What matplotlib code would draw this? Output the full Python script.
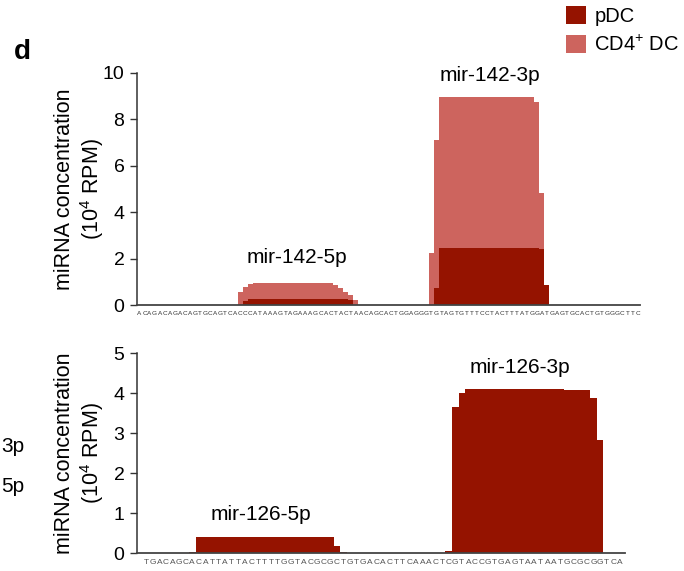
import numpy as np
import matplotlib
matplotlib.use('Agg')
import matplotlib.pyplot as plt
from matplotlib.patches import Patch

plt.rcParams['font.family'] = ['Liberation Sans', 'DejaVu Sans']
plt.rcParams['mathtext.fontset'] = 'custom'
plt.rcParams['mathtext.rm'] = 'Liberation Sans'
plt.rcParams['mathtext.it'] = 'Liberation Sans:italic'
plt.rcParams['mathtext.bf'] = 'Liberation Sans:bold'

# ---------------- data ----------------
seq_142 = "ACAGACAGACAGTGCAGTCACCCATAAAGTAGAAAGCACTACTAACAGCACTGGAGGGTGTAGTGTTTCCTACTTTATGGATGAGTGCACTGTGGGCTTC"
seq_126 = "TGACAGCACATTATTACTTTTGGTACGCGCTGTGACACTTCAAACTCGTACCGTGAGTAATAATGCGCGGTCA"

# per-nucleotide coverage (10^4 RPM), given as start index + values
cd4_142_5p_start = 20
cd4_142_5p = [0.57, 0.79, 0.89, 0.93, 0.93, 0.93, 0.93, 0.93, 0.93, 0.93, 0.93,
              0.93, 0.93, 0.93, 0.93, 0.93, 0.93, 0.93, 0.93, 0.86, 0.72, 0.57,
              0.43, 0.20]
pdc_142_5p_start = 21
pdc_142_5p = [0.18, 0.24, 0.24, 0.24, 0.24, 0.24, 0.24, 0.24, 0.24, 0.24, 0.24,
              0.24, 0.24, 0.24, 0.24, 0.24, 0.24, 0.24, 0.24, 0.24, 0.24, 0.22]

cd4_142_3p_start = 58
cd4_142_3p = [2.23, 7.10, 8.98, 8.98, 8.98, 8.98, 8.98, 8.98, 8.98, 8.98, 8.98,
              8.98, 8.98, 8.98, 8.98, 8.98, 8.98, 8.98, 8.98, 8.98, 8.98, 8.76,
              4.81]
pdc_142_3p_start = 59
pdc_142_3p = [0.72, 2.47, 2.47, 2.47, 2.47, 2.47, 2.47, 2.47, 2.47, 2.47, 2.47,
              2.47, 2.47, 2.47, 2.47, 2.47, 2.47, 2.47, 2.47, 2.47, 2.45, 2.40,
              0.86]

pdc_126_5p_start = 7
pdc_126_5p = [0.03, 0.39, 0.39, 0.39, 0.39, 0.39, 0.39, 0.39, 0.39, 0.39, 0.39,
              0.39, 0.39, 0.39, 0.39, 0.39, 0.39, 0.39, 0.39, 0.39, 0.39, 0.39,
              0.175, 0.02]
pdc_126_3p_start = 46
pdc_126_3p = [0.05, 3.66, 4.01, 4.10, 4.10, 4.10, 4.10, 4.10, 4.10, 4.10, 4.10,
              4.10, 4.10, 4.10, 4.10, 4.10, 4.10, 4.10, 4.08, 4.08, 4.08, 4.07,
              3.87, 2.83]

labels_142 = ["mir-142-5p", "mir-142-3p"]
labels_126 = ["mir-126-5p", "mir-126-3p"]
series_names = ["pDC", "CD4$^{+}$ DC"]
yticks_top = [0, 2, 4, 6, 8, 10]
yticks_bot = [0, 1, 2, 3, 4, 5]
edge_fragments = ["3p", "5p"]

PDC = '#951300'
CD4 = '#CD645E'


def coverage(n, *parts):
    cov = np.zeros(n)
    for start, vals in parts:
        cov[start:start + len(vals)] = vals
    return cov


W, H = 684, 571
fig = plt.figure(figsize=(W / 100, H / 100), dpi=100)


def px_axes(l, t, r, b):
    return fig.add_axes([l / W, 1 - b / H, (r - l) / W, (b - t) / H])


ax1 = px_axes(137, 73, 640, 305)
ax2 = px_axes(137, 353, 625, 553)

n1 = len(seq_142)
n2 = len(seq_126)
edges1 = np.arange(n1 + 1)
edges2 = np.arange(n2 + 1)

cd4_top = coverage(n1, (cd4_142_5p_start, cd4_142_5p), (cd4_142_3p_start, cd4_142_3p))
pdc_top = coverage(n1, (pdc_142_5p_start, pdc_142_5p), (pdc_142_3p_start, pdc_142_3p))
pdc_bot = coverage(n2, (pdc_126_5p_start, pdc_126_5p), (pdc_126_3p_start, pdc_126_3p))

ax1.stairs(cd4_top, edges1, fill=True, color=CD4, baseline=0, zorder=2)
ax1.stairs(pdc_top, edges1, fill=True, color=PDC, baseline=0, zorder=3)
ax2.stairs(pdc_bot, edges2, fill=True, color=PDC, baseline=0, zorder=3)

ax1.set_xlim(0, n1)
ax1.set_ylim(0, 10)
ax2.set_xlim(-0.9, 73.3)
ax2.set_ylim(0, 5)
ax1.set_yticks(yticks_top)
ax2.set_yticks(yticks_bot)

for ax in (ax1, ax2):
    for s in ('top', 'right'):
        ax.spines[s].set_visible(False)
    ax.spines['left'].set_color('#333333')
    ax.spines['left'].set_linewidth(1.1)
    ax.spines['bottom'].set_color('#444444')
    ax.spines['bottom'].set_linewidth(1.3)
    ax.spines['bottom'].set_zorder(5)
    ax.set_xticks([])
    ax.tick_params(axis='y', direction='out', length=5, width=1, color='#333333',
                   labelsize=14, pad=4)
    ax.set_ylabel('miRNA concentration\n(10$^{4}$ RPM)', fontsize=15.5, linespacing=1.15)
    ax.patch.set_alpha(0)

ax1.yaxis.set_label_coords(-0.062, 0.5)
ax2.yaxis.set_label_coords(-0.064, 0.5)

# sequences under the axes
tr1 = ax1.get_xaxis_transform()
for i, ch in enumerate(seq_142):
    ax1.text(i + 0.5, -0.026, ch, transform=tr1, ha='center', va='top',
             fontsize=4.6, color='#333333')
tr2 = ax2.get_xaxis_transform()
for i, ch in enumerate(seq_126):
    ax2.text(i + 0.5, -0.03, ch, transform=tr2, ha='center', va='top',
             fontsize=6, color='#555555')

# peak labels
ax1.text(31.8, 2.05, labels_142[0], ha='center', va='center', fontsize=15)
ax1.text(70.2, 9.9, labels_142[1], ha='center', va='center', fontsize=15)
ax2.text(18.0, 0.95, labels_126[0], ha='center', va='center', fontsize=15)
ax2.text(57.3, 4.63, labels_126[1], ha='center', va='center', fontsize=15)

# panel letter
fig.text(22 / W, 1 - 52 / H, 'd', fontsize=20, fontweight='bold', ha='center', va='center')

# fragments of the neighbouring panel at the left edge
fig.text(1 / W, 1 - 446 / H, edge_fragments[0], fontsize=15, ha='left', va='center')
fig.text(1 / W, 1 - 487 / H, edge_fragments[1], fontsize=15, ha='left', va='center')

# legend
handles = [Patch(facecolor=PDC, edgecolor='none'), Patch(facecolor=CD4, edgecolor='none')]
fig.legend(handles, series_names, loc='upper left', bbox_to_anchor=(566 / W, 1 - 6 / H),
           frameon=False, fontsize=14.5, handlelength=1.0, handleheight=1.0,
           handletextpad=0.4, labelspacing=0.45, borderpad=0, borderaxespad=0)

fig.savefig('out.png', dpi=100)
